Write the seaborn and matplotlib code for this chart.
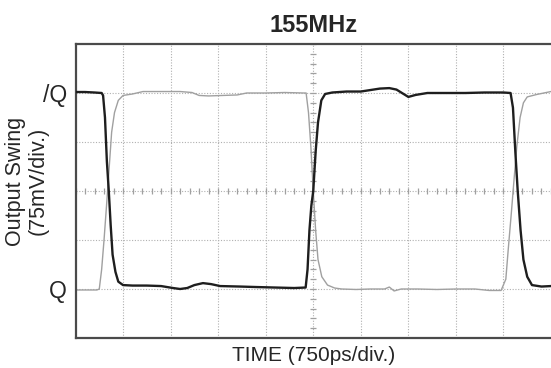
import numpy as np
import pandas as pd
import matplotlib
matplotlib.use("Agg")
import matplotlib.pyplot as plt
import seaborn as sns

# traces (x in divisions, y in divisions from bottom)
black_x = [0.0, 0.2, 0.4, 0.55, 0.58, 0.62, 0.66, 0.70, 0.74, 0.78, 0.84, 0.90, 1.00,
           1.20, 1.50, 1.80, 2.05, 2.20, 2.35, 2.50, 2.68, 2.85, 3.04, 3.46, 3.80, 4.20,
           4.60, 4.84, 4.88, 4.92, 4.96, 5.00, 5.05, 5.10, 5.17, 5.25, 5.40, 5.70, 6.00,
           6.20, 6.40, 6.60, 6.75, 6.90, 7.00, 7.15, 7.40, 7.80, 8.20, 8.60, 9.00, 9.15,
           9.20, 9.25, 9.30, 9.36, 9.42, 9.50, 9.60, 9.80, 10.0]
black_y = [5.02, 5.02, 5.01, 5.0, 4.95, 4.5, 3.6, 3.0, 2.3, 1.7, 1.35, 1.15, 1.08,
           1.07, 1.07, 1.06, 1.02, 1.0, 1.02, 1.08, 1.12, 1.10, 1.06, 1.05, 1.04, 1.03,
           1.02, 1.03, 1.4, 2.2, 2.7, 3.0, 3.8, 4.4, 4.85, 4.98, 5.01, 5.03, 5.03,
           5.06, 5.09, 5.10, 5.07, 4.98, 4.92, 4.96, 5.0, 5.0, 5.0, 5.01, 5.01, 5.0,
           4.7, 3.8, 3.0, 2.2, 1.6, 1.25, 1.08, 1.05, 1.06]

gray_x = [0.0, 0.2, 0.45, 0.50, 0.55, 0.60, 0.66, 0.71, 0.76, 0.82, 0.90, 1.00, 1.20,
          1.42, 1.80, 2.20, 2.45, 2.60, 2.80, 3.10, 3.40, 3.60, 4.00, 4.40, 4.80, 4.85,
          4.90, 4.95, 5.00, 5.05, 5.10, 5.18, 5.30, 5.45, 5.60, 5.90, 6.20, 6.50, 6.60,
          6.70, 6.85, 7.20, 7.60, 8.00, 8.40, 8.70, 8.95, 9.05, 9.10, 9.17, 9.22, 9.28,
          9.35, 9.42, 9.50, 9.70, 10.0]
gray_y = [0.98, 0.98, 0.98, 1.0, 1.4, 2.0, 2.8, 3.5, 4.2, 4.6, 4.85, 4.95, 4.98,
          5.03, 5.03, 5.03, 5.01, 4.95, 4.94, 4.95, 4.96, 5.0, 5.0, 5.01, 5.0, 5.0,
          4.6, 3.9, 3.0, 2.2, 1.6, 1.25, 1.08, 1.02, 1.0, 0.99, 1.0, 1.0, 1.04,
          0.96, 1.0, 1.0, 0.99, 1.0, 1.0, 0.97, 0.97, 1.2, 1.8, 2.6, 3.2, 3.9,
          4.5, 4.8, 4.92, 4.97, 5.03]

level_pos = [1, 5]
level_labels = ["Q", "/Q"]

sns.set_theme(style="white")
plt.rcParams['font.family'] = ['Liberation Sans', 'DejaVu Sans']

black_df = pd.DataFrame({'t': black_x, 'v': black_y})
gray_df = pd.DataFrame({'t': gray_x, 'v': gray_y})

fig = plt.figure(figsize=(5.51, 3.68), dpi=100)
ax = fig.add_axes([75.5 / 551, 1 - 338 / 368, 475.5 / 551, 294 / 368])

# scope graticule
grid_kw = dict(color='#b0b0b0', lw=0.8, linestyle=(0, (1, 1.5)), zorder=0)
for gx in range(1, 10):
    ax.axvline(gx, **grid_kw)
for gy in range(1, 6):
    ax.axhline(gy, **grid_kw)
minor = np.arange(0, 10.01, 0.2)
ax.plot(minor, np.full_like(minor, 3.0), '|', color='#a0a0a0', ms=5, mew=0.9, zorder=0)
minor_y = np.arange(0, 6.01, 0.2)
ax.plot(np.full_like(minor_y, 5.0), minor_y, '_', color='#a0a0a0', ms=5, mew=0.9, zorder=0)

sns.lineplot(data=gray_df, x='t', y='v', color='#a0a0a0', lw=1.0, sort=False,
             estimator=None, ax=ax, zorder=2)
sns.lineplot(data=black_df, x='t', y='v', color='#1e1e1e', lw=1.7, sort=False,
             estimator=None, ax=ax, zorder=3)

ax.set_xlim(0, 10)
ax.set_ylim(0, 6)
ax.set_xticks([])
ax.set_yticks(level_pos)
ax.set_yticklabels(level_labels, fontsize=16.5)
ax.tick_params(axis='y', length=0, pad=6)
for side in ['left', 'top', 'bottom']:
    ax.spines[side].set_color('#4a4a4a')
    ax.spines[side].set_linewidth(1.6)
ax.spines['right'].set_visible(False)

ax.set_xlabel('TIME (750ps/div.)', fontsize=15, labelpad=6)
ax.set_ylabel('Output Swing\n(75mV/div.)', fontsize=15.5, linespacing=1.1)
ax.yaxis.set_label_coords(-0.057, 0.534)
ax.set_title('155MHz', fontsize=17, fontweight='bold', pad=9)

fig.savefig('out.png', dpi=100)
